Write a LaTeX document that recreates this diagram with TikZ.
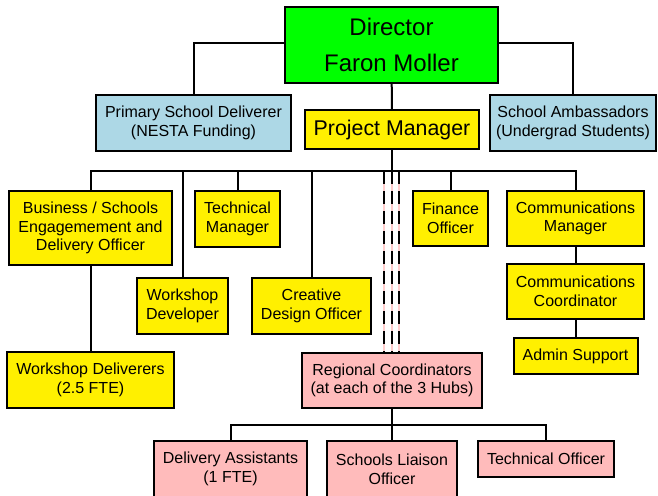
\documentclass[tikz,border=0pt]{standalone}
\usepackage{fontspec}
\setmainfont{Liberation Sans}
\definecolor{dirgreen}{RGB}{0,255,0}
\definecolor{postblue}{RGB}{173,216,230}
\definecolor{postyellow}{RGB}{255,240,0}
\definecolor{postpink}{RGB}{255,187,187}
\definecolor{dashpink}{RGB}{255,205,205}
\newcommand{\linew}{1.5pt}

\tikzset{
  post/.style={draw, line width=\linew, inner sep=0pt, align=center,
    font=\fontsize{12}{14}\selectfont},
  boxsize/.style 2 args={minimum width=#1*.75pt, minimum height=#2*.75pt},
  link/.style={line width=\linew}
}

\begin{document}
\begin{tikzpicture}[x=.75pt, y=-.75pt]
        \useasboundingbox (0,0) rectangle (658,496);
        % director and the level below
        \node (dir) at (391.5,45) [post, fill=dirgreen, boxsize={213}{76}, font=\fontsize{18}{27}\selectfont] {Director\\Faron Moller};
        \node (psd) at (193.5,123) [post, fill=postblue, boxsize={195}{56}] {Primary School Deliverer\\(NESTA Funding)};
        \node (amb) at (573,123) [post, fill=postblue, boxsize={166}{56}] {School Ambassadors\\(Undergrad Students)};
        \node (pm) at (392,129.5) [post, fill=postyellow, boxsize={174}{39}, font=\fontsize{16}{19}\selectfont] {Project Manager};

        % staff under the project manager
        \node (biz) at (90.5,228) [post, fill=postyellow, boxsize={163}{74}] {Business / Schools\\Engagemement and\\Delivery Officer};
        \node (tmgr) at (237.5,219) [post, fill=postyellow, boxsize={85}{56}] {Technical\\Manager};
        \node (wdev) at (182.5,306) [post, fill=postyellow, boxsize={91}{56}] {Workshop\\Developer};
        \node (cdo) at (311.5,306) [post, fill=postyellow, boxsize={119}{56}] {Creative\\Design Officer};
        \node (fin) at (450.5,218.5) [post, fill=postyellow, boxsize={75}{55}] {Finance\\Officer};
        \node (cmgr) at (575.5,218.5) [post, fill=postyellow, boxsize={137}{55}] {Communications\\Manager};
        \node (ccoord) at (575.5,291.5) [post, fill=postyellow, boxsize={137}{55}] {Communications\\Coordinator};
        \node (admin) at (575.5,356) [post, fill=postyellow, boxsize={124}{36}] {Admin Support};
        \node (wdel) at (90.5,380) [post, fill=postyellow, boxsize={167}{56}] {Workshop Deliverers\\(2.5 FTE)};

        % hubs
        \node (rc) at (392,380.5) [post, fill=postpink, boxsize={180}{55}] {Regional Coordinators\\(at each of the 3 Hubs)};
        \node (da) at (230.5,469) [post, fill=postpink, boxsize={153}{56}] {Delivery Assistants\\(1 FTE)};
        \node (slo) at (392,469) [post, fill=postpink, boxsize={130}{56}] {Schools Liaison\\Officer};
        \node (tof) at (546,459) [post, fill=postpink, boxsize={136}{36}] {Technical Officer};

        \coordinate (bus) at (392,171);
        \coordinate (hubbus) at (392,425);

        \draw[link] (psd.north) |- ([yshift=1.5pt]dir.west);
        \draw[link] ([yshift=1.5pt]dir.east) -| (amb.north);
        \draw[link] (dir) -- (pm);
        \draw[link] (pm) -- (bus);
        \draw[link] (biz.north) |- (bus) -| (cmgr.north);
        \foreach \n in {tmgr,wdev,cdo,fin}
                 \draw[link] (bus -| \n) -- (\n.north);
        \draw[link] (biz) -- (wdel);
        \draw[link] (cmgr) -- (ccoord) -- (admin);
        \foreach \dx in {-8,0,7}
                 {
                   \draw[line width=.8pt, dashpink] ([shift={(\dx,0)}]bus) -- ([shift={(\dx,0)}]rc.north);
                   \draw[line width=2pt, dash pattern=on 10pt off 5pt] ([shift={(\dx,0)}]bus) -- ([shift={(\dx,0)}]rc.north);
                 }
        \draw[link] (rc) -- (slo);
        \draw[link] (da.north) |- (hubbus) -| (tof.north);
\end{tikzpicture}
\end{document}
